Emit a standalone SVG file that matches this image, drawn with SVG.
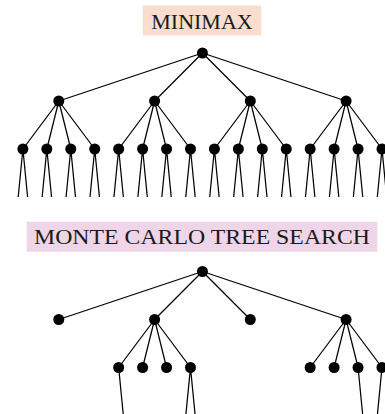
<svg xmlns="http://www.w3.org/2000/svg" width="385" height="414" viewBox="0 0 385 414">
  <style>
    .edge { stroke: #000; stroke-width: 1.25; fill: none; }
    .dot { fill: #000; }
    .title { font-family: "Liberation Serif", "DejaVu Serif", serif; font-size: 22px; fill: #1a1a1a; text-anchor: middle; }
  </style>
  <rect width="385" height="414" fill="#fff"/>

  <!-- Titles -->
  <g id="title-minimax">
    <rect x="142.7" y="5.5" width="118.6" height="30" fill="#f9decd"/>
    <text class="title" x="202" y="29.3">MINIMAX</text>
  </g>
  <g id="title-mcts">
    <rect x="26.7" y="221.8" width="350.6" height="30" fill="#eed5e7"/>
    <text class="title" x="202" y="244.2" textLength="336" lengthAdjust="spacingAndGlyphs">MONTE CARLO TREE SEARCH</text>
  </g>

  <!-- Connectors -->
  <g id="connectors" class="edge">
    <!-- minimax: root to level 1 -->
    <path d="M202.45 53 L58.8 101 M202.45 53 L154.6 101 M202.45 53 L250.3 101 M202.45 53 L346.1 101"/>
    <!-- minimax: level 1 to level 2 -->
    <path d="M58.8 101 L22.9 149 M58.8 101 L46.84 149 M58.8 101 L70.78 149 M58.8 101 L94.72 149"/>
    <path d="M154.6 101 L118.66 149 M154.6 101 L142.6 149 M154.6 101 L166.54 149 M154.6 101 L190.48 149"/>
    <path d="M250.3 101 L214.42 149 M250.3 101 L238.36 149 M250.3 101 L262.3 149 M250.3 101 L286.24 149"/>
    <path d="M346.1 101 L310.18 149 M346.1 101 L334.12 149 M346.1 101 L358.06 149 M346.1 101 L382 149"/>
    <!-- minimax: level 2 to level 3 -->
    <path d="M22.9 149 L18.2 197 M22.9 149 L27.6 197 M46.84 149 L42.14 197 M46.84 149 L51.54 197
             M70.78 149 L66.08 197 M70.78 149 L75.48 197 M94.72 149 L90.02 197 M94.72 149 L99.42 197
             M118.66 149 L113.96 197 M118.66 149 L123.36 197 M142.6 149 L137.9 197 M142.6 149 L147.3 197
             M166.54 149 L161.84 197 M166.54 149 L171.24 197 M190.48 149 L185.78 197 M190.48 149 L195.18 197
             M214.42 149 L209.72 197 M214.42 149 L219.12 197 M238.36 149 L233.66 197 M238.36 149 L243.06 197
             M262.3 149 L257.6 197 M262.3 149 L267 197 M286.24 149 L281.54 197 M286.24 149 L290.94 197
             M310.18 149 L305.48 197 M310.18 149 L314.88 197 M334.12 149 L329.42 197 M334.12 149 L338.82 197
             M358.06 149 L353.36 197 M358.06 149 L362.76 197 M382 149 L377.3 197 M382 149 L386.7 197"/>
    <!-- mcts: root to level 1 -->
    <path d="M202.45 271.5 L58.8 319.5 M202.45 271.5 L154.6 319.5 M202.45 271.5 L250.3 319.5 M202.45 271.5 L346.1 319.5"/>
    <!-- mcts: expanded children -->
    <path d="M154.6 319.5 L118.66 367.5 M154.6 319.5 L142.6 367.5 M154.6 319.5 L166.54 367.5 M154.6 319.5 L190.48 367.5"/>
    <path d="M346.1 319.5 L310.18 367.5 M346.1 319.5 L334.12 367.5 M346.1 319.5 L358.06 367.5 M346.1 319.5 L382 367.5"/>
    <!-- mcts: rollouts -->
    <path d="M118.66 367.5 L123.36 415.5 M190.48 367.5 L185.78 415.5 M190.48 367.5 L195.18 415.5
             M358.06 367.5 L362.76 415.5 M382 367.5 L377.3 415.5"/>
  </g>

  <!-- Minimax tree nodes -->
  <g id="mm-root"><circle class="dot" cx="202.45" cy="53" r="5.5"/></g>
  <g id="mm-a"><circle class="dot" cx="58.8" cy="101" r="5.5"/></g>
  <g id="mm-b"><circle class="dot" cx="154.6" cy="101" r="5.5"/></g>
  <g id="mm-c"><circle class="dot" cx="250.3" cy="101" r="5.5"/></g>
  <g id="mm-d"><circle class="dot" cx="346.1" cy="101" r="5.5"/></g>
  <g id="mm-a1"><circle class="dot" cx="22.9" cy="149" r="5.5"/></g>
  <g id="mm-a2"><circle class="dot" cx="46.84" cy="149" r="5.5"/></g>
  <g id="mm-a3"><circle class="dot" cx="70.78" cy="149" r="5.5"/></g>
  <g id="mm-a4"><circle class="dot" cx="94.72" cy="149" r="5.5"/></g>
  <g id="mm-b1"><circle class="dot" cx="118.66" cy="149" r="5.5"/></g>
  <g id="mm-b2"><circle class="dot" cx="142.6" cy="149" r="5.5"/></g>
  <g id="mm-b3"><circle class="dot" cx="166.54" cy="149" r="5.5"/></g>
  <g id="mm-b4"><circle class="dot" cx="190.48" cy="149" r="5.5"/></g>
  <g id="mm-c1"><circle class="dot" cx="214.42" cy="149" r="5.5"/></g>
  <g id="mm-c2"><circle class="dot" cx="238.36" cy="149" r="5.5"/></g>
  <g id="mm-c3"><circle class="dot" cx="262.3" cy="149" r="5.5"/></g>
  <g id="mm-c4"><circle class="dot" cx="286.24" cy="149" r="5.5"/></g>
  <g id="mm-d1"><circle class="dot" cx="310.18" cy="149" r="5.5"/></g>
  <g id="mm-d2"><circle class="dot" cx="334.12" cy="149" r="5.5"/></g>
  <g id="mm-d3"><circle class="dot" cx="358.06" cy="149" r="5.5"/></g>
  <g id="mm-d4"><circle class="dot" cx="382" cy="149" r="5.5"/></g>

  <!-- Monte Carlo tree nodes -->
  <g id="mc-root"><circle class="dot" cx="202.45" cy="271.5" r="5.5"/></g>
  <g id="mc-a"><circle class="dot" cx="58.8" cy="319.5" r="5.5"/></g>
  <g id="mc-b"><circle class="dot" cx="154.6" cy="319.5" r="5.5"/></g>
  <g id="mc-c"><circle class="dot" cx="250.3" cy="319.5" r="5.5"/></g>
  <g id="mc-d"><circle class="dot" cx="346.1" cy="319.5" r="5.5"/></g>
  <g id="mc-b1"><circle class="dot" cx="118.66" cy="367.5" r="5.5"/></g>
  <g id="mc-b2"><circle class="dot" cx="142.6" cy="367.5" r="5.5"/></g>
  <g id="mc-b3"><circle class="dot" cx="166.54" cy="367.5" r="5.5"/></g>
  <g id="mc-b4"><circle class="dot" cx="190.48" cy="367.5" r="5.5"/></g>
  <g id="mc-d1"><circle class="dot" cx="310.18" cy="367.5" r="5.5"/></g>
  <g id="mc-d2"><circle class="dot" cx="334.12" cy="367.5" r="5.5"/></g>
  <g id="mc-d3"><circle class="dot" cx="358.06" cy="367.5" r="5.5"/></g>
  <g id="mc-d4"><circle class="dot" cx="382" cy="367.5" r="5.5"/></g>
</svg>
